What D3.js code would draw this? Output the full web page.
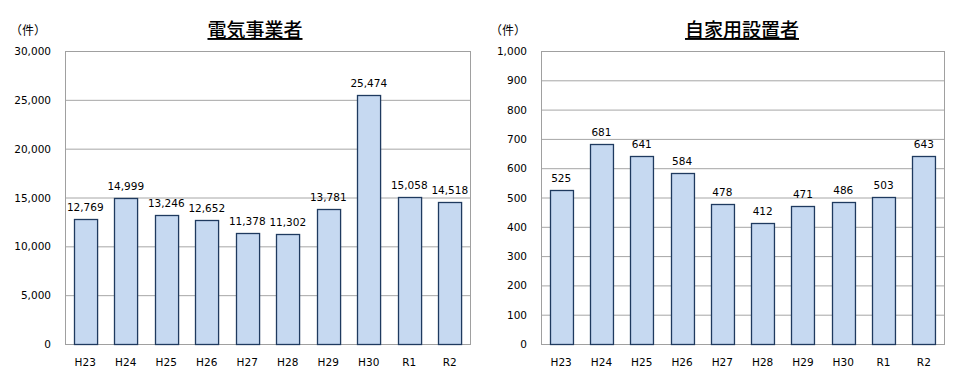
<!DOCTYPE html>
<html>
<head>
<meta charset="utf-8">
<script src="https://cdn.jsdelivr.net/npm/d3@7"></script>
<style>
  body { margin: 0; background: #fff; }
  text { font-family: "DejaVu Sans", Verdana, sans-serif; fill: #000; }
  .title { font-family: "Noto Sans CJK JP", sans-serif; font-weight: 500; text-decoration: underline; }
  .unit { font-family: "Noto Sans CJK JP", sans-serif; }
</style>
</head>
<body>
<div id="container"></div>
<script>
// data
const years = ["H23", "H24", "H25", "H26", "H27", "H28", "H29", "H30", "R1", "R2"];
const electricValues = [12769, 14999, 13246, 12652, 11378, 11302, 13781, 25474, 15058, 14518];
const privateValues = [525, 681, 641, 584, 478, 412, 471, 486, 503, 643];
const electricTicks = [0, 5000, 10000, 15000, 20000, 25000, 30000];
const privateTicks = [0, 100, 200, 300, 400, 500, 600, 700, 800, 900, 1000];

const width = 959, height = 378;
const fmt = d3.format(",");

const svg = d3
  .select("#container")
  .append("svg")
  .attr("width", width)
  .attr("height", height);

//draw one panel
const drawPanel = (opts) => {
  const { title, values, ticks, left, right, titleX, unitX, labelX } = opts;
  const top = 51, bottom = 344;

  const x = d3.scaleBand().domain(years).range([left, right]).paddingInner(0.43).paddingOuter(0.215);
  const y = d3.scaleLinear().domain([0, d3.max(ticks)]).range([bottom, top]);

  const g = svg.append("g");

  //gridlines
  g.selectAll(".grid")
    .data(ticks)
    .enter()
    .append("line")
    .attr("x1", left)
    .attr("x2", right)
    .attr("y1", (d) => y(d) + 0.5)
    .attr("y2", (d) => y(d) + 0.5)
    .attr("stroke", "#a6a6a6")
    .attr("stroke-width", 1);

  //plot border
  g.append("rect")
    .attr("x", left + 0.5)
    .attr("y", top + 0.5)
    .attr("width", right - left)
    .attr("height", bottom - top)
    .attr("fill", "none")
    .attr("stroke", "#a0a0a0");

  //y tick labels
  g.selectAll(".ytick")
    .data(ticks)
    .enter()
    .append("text")
    .attr("x", labelX)
    .attr("y", (d) => y(d) + 4)
    .attr("text-anchor", "end")
    .style("font-size", "10.5px")
    .text((d) => fmt(d));

  //bars
  g.selectAll(".bar")
    .data(values)
    .enter()
    .append("rect")
    .attr("x", (d, i) => Math.round(x(years[i])) + 0.5)
    .attr("y", (d) => Math.round(y(d)) + 0.5)
    .attr("width", x.bandwidth())
    .attr("height", (d) => bottom - Math.round(y(d)))
    .attr("fill", "#c6d9f1")
    .attr("stroke", "#1f3a5f")
    .attr("stroke-width", 1.3);

  //value labels
  g.selectAll(".val")
    .data(values)
    .enter()
    .append("text")
    .attr("x", (d, i) => x(years[i]) + x.bandwidth() / 2)
    .attr("y", (d) => y(d) - 8)
    .attr("text-anchor", "middle")
    .style("font-size", "10.5px")
    .text((d) => fmt(d));

  //x labels
  g.selectAll(".xlab")
    .data(years)
    .enter()
    .append("text")
    .attr("x", (d) => x(d) + x.bandwidth() / 2)
    .attr("y", 366)
    .attr("text-anchor", "middle")
    .style("font-size", "10.5px")
    .text((d) => d);

  //title and unit
  g.append("text")
    .attr("class", "title")
    .attr("x", titleX)
    .attr("y", 37)
    .attr("text-anchor", "middle")
    .style("font-size", "19px")
    .text(title);

  g.append("text")
    .attr("class", "unit")
    .attr("x", unitX)
    .attr("y", 35)
    .style("font-size", "12px")
    .text("（件）");
};

drawPanel({ title: "電気事業者", values: electricValues, ticks: electricTicks, left: 65, right: 470, titleX: 255, unitX: 10, labelX: 51 });
drawPanel({ title: "自家用設置者", values: privateValues, ticks: privateTicks, left: 541, right: 944, titleX: 742, unitX: 490, labelX: 527 });
</script>
</body>
</html>
